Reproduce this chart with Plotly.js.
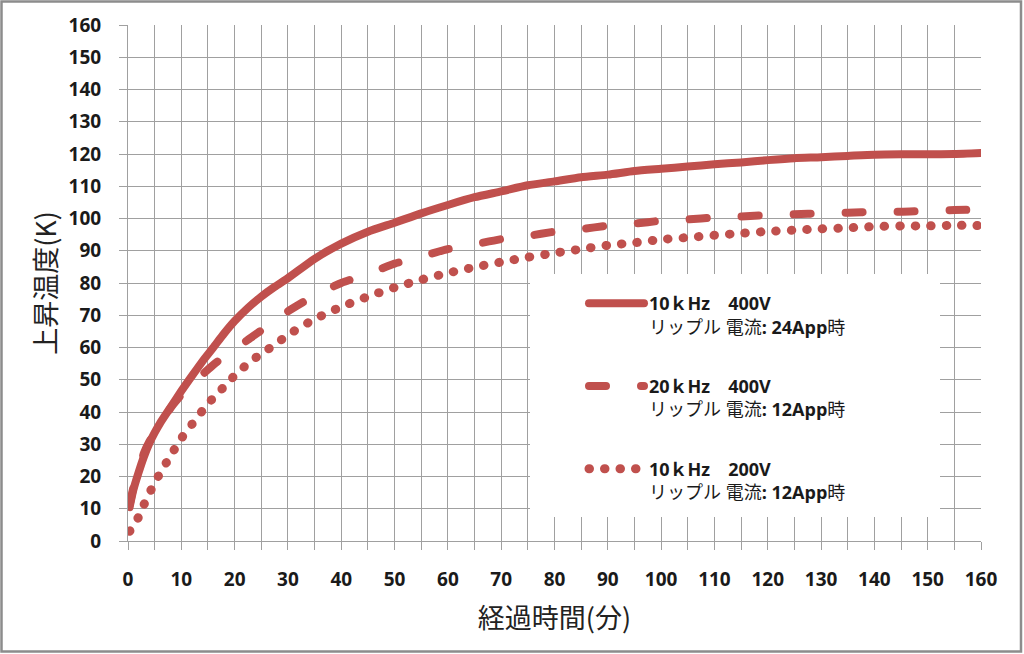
<!DOCTYPE html>
<html>
<head>
<meta charset="utf-8">
<script src="https://cdn.plot.ly/plotly-3.0.1.min.js"></script>
<style>
  html, body { margin: 0; padding: 0; background: #ffffff; }
  #chart { width: 1024px; height: 654px; }
  #chart path.js-line { stroke-linecap: round; stroke-linejoin: round; }
</style>
</head>
<body>
<div id="chart"></div>
<script>
// elapsed time (minutes)
const timeMin = [0.3, 1, 2, 3, 4, 5, 6, 8, 10, 12, 14, 16, 18, 20, 22.5, 25, 27.5, 30, 35, 40, 45, 50, 55, 60, 65, 70, 75, 80, 85, 90, 95, 100, 105, 110, 115, 120, 125, 130, 135, 140, 145, 150, 155, 160];

// temperature rise (K)
const rise10k400 = [10.5, 15.8, 21.3, 26.2, 30.3, 33.6, 36.5, 41.5, 46.5, 51.2, 55.8, 60, 64.3, 68.2, 72.3, 75.8, 78.8, 81.5, 87.5, 92.2, 95.9, 98.7, 101.6, 104.2, 106.6, 108.4, 110.3, 111.5, 112.8, 113.6, 114.7, 115.4, 116.1, 116.8, 117.4, 118.1, 118.7, 119.0, 119.4, 119.8, 119.9, 119.9, 120.0, 120.3];
const rise20k400 = [11, 16.5, 22, 27.3, 30.8, 33.5, 36, 41.3, 45.3, 48.8, 51.7, 54.6, 57.2, 59.2, 62.4, 65.3, 68.2, 71.2, 76.1, 80.0, 82.8, 86.0, 88.2, 90.5, 92.0, 93.6, 94.6, 95.9, 96.7, 97.8, 98.4, 99.3, 99.7, 100.3, 100.6, 101.1, 101.3, 101.6, 101.8, 102.1, 102.1, 102.4, 102.6, 102.8];
const rise10k200 = [3, 4.8, 7.5, 11.3, 14.8, 18, 21, 26.5, 31.8, 36.2, 40.5, 44.4, 47.8, 51.3, 55, 58.1, 60.8, 63.9, 68.8, 72.6, 75.8, 78.6, 81.0, 83.1, 84.9, 86.5, 88.0, 89.3, 90.5, 91.7, 92.5, 93.5, 94.1, 94.8, 95.4, 96.0, 96.4, 96.8, 97.1, 97.5, 97.7, 97.7, 97.9, 97.8];

const seriesNames = [
  '<b>10ｋHz　400V</b><br>リップル 電流<b>: 24App</b>時',
  '<b>20ｋHz　400V</b><br>リップル 電流<b>: 12App</b>時',
  '<b>10ｋHz　200V</b><br>リップル 電流<b>: 12App</b>時'
];

const xTitle = '経過時間(分)';
const yTitle = '上昇温度(K)';

const red = '#c0504d';
const gridCol = '#a0a0a0';

const traces = [
  { x: timeMin, y: rise10k400, name: seriesNames[0], legendgroup: 'a', mode: 'lines',
    line: { color: red, width: 8, shape: 'spline', smoothing: 0.6 } },
  { x: timeMin, y: rise20k400, name: seriesNames[1], legendgroup: 'b', mode: 'lines',
    line: { color: red, width: 8, dash: '17px,35px', shape: 'spline', smoothing: 0.6 } },
  { x: timeMin, y: rise10k200, name: seriesNames[2], legendgroup: 'c', mode: 'lines',
    line: { color: red, width: 9, dash: '0.5px,15px', shape: 'spline', smoothing: 0.6 } }
];

const tickFont = { family: 'Open Sans, Noto Sans CJK JP, sans-serif', size: 19, color: '#1a1a1a', weight: 'bold' };
const titleFont = { family: 'Noto Sans CJK JP, sans-serif', size: 27, color: '#222222' };

// plot area pixel box used to express paper fractions
const L = 128, R = 981, T = 25, B = 541;
const px = v => (v - L) / (R - L);
const py = v => (B - v) / (B - T);

const layout = {
  width: 1024, height: 654,
  margin: { l: L, r: 1024 - R, t: T, b: 654 - B },
  paper_bgcolor: '#ffffff', plot_bgcolor: '#ffffff',
  showlegend: true,
  legend: {
    x: px(584), y: py(285), xanchor: 'left', yanchor: 'top',
    bgcolor: 'rgba(0,0,0,0)', borderwidth: 0,
    traceorder: 'grouped', tracegroupgap: 33, valign: 'top',
    itemwidth: 55,
    font: { family: 'Open Sans, Noto Sans CJK JP, sans-serif', size: 18, color: '#1a1a1a' }
  },
  xaxis: {
    range: [0, 160], tick0: 0, dtick: 10, zeroline: false,
    showgrid: true, gridcolor: gridCol, gridwidth: 1,
    showline: true, linecolor: gridCol, linewidth: 1,
    ticks: 'outside', ticklen: 8, tickcolor: gridCol, tickwidth: 1,
    minor: { dtick: 5, showgrid: true, gridcolor: gridCol, gridwidth: 1, ticks: 'outside', ticklen: 8, tickcolor: gridCol },
    tickfont: tickFont, ticklabelstandoff: 13,
    title: { text: xTitle, font: titleFont, standoff: 18 }
  },
  yaxis: {
    range: [0, 160], tick0: 0, dtick: 10, zeroline: false,
    showgrid: true, gridcolor: gridCol, gridwidth: 1,
    showline: true, linecolor: gridCol, linewidth: 1,
    ticks: 'outside', ticklen: 8, tickcolor: gridCol, tickwidth: 1,
    tickfont: tickFont, ticklabelstandoff: 14,
    title: { text: yTitle, font: titleFont, standoff: 4 }
  },
  shapes: [
    { type: 'rect', xref: 'paper', yref: 'paper', layer: 'above',
      x0: px(530), x1: px(940), y0: py(517), y1: py(274),
      fillcolor: '#ffffff', line: { width: 0 } },
    { type: 'rect', xref: 'paper', yref: 'paper', layer: 'above',
      x0: px(1.5), x1: px(1021), y0: py(651.5), y1: py(1.5),
      fillcolor: 'rgba(0,0,0,0)', line: { color: '#8c8c8c', width: 2.5 } }
  ]
};

Plotly.newPlot('chart', traces, layout, { staticPlot: true, displayModeBar: false });
</script>
</body>
</html>
